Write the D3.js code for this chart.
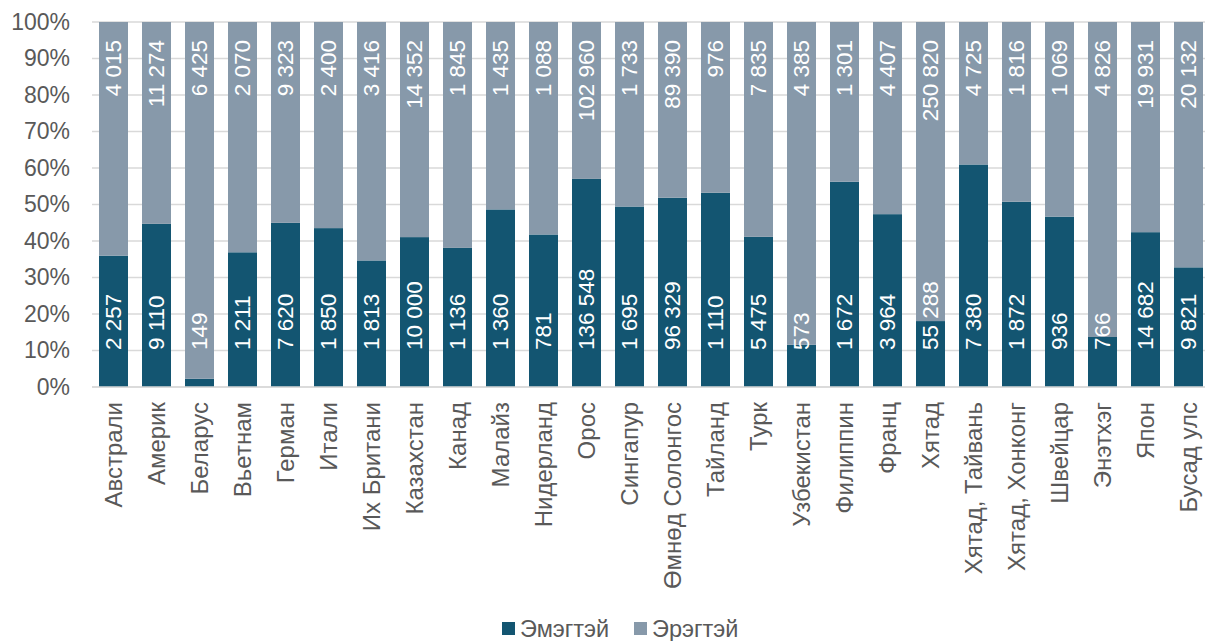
<!DOCTYPE html>
<html><head><meta charset="utf-8">
<script src="https://cdn.jsdelivr.net/npm/d3@7/dist/d3.min.js"></script>
<style>body{margin:0;background:#fff}svg{display:block}text{font-family:Arial,"Liberation Sans",sans-serif}</style>
</head><body><svg id="c" width="1205" height="641"></svg>
<script>
const categories = ["Австрали","Америк","Беларус","Вьетнам","Герман","Итали","Их Британи","Казахстан","Канад","Малайз","Нидерланд","Орос","Сингапур","Өмнөд Солонгос","Тайланд","Турк","Узбекистан","Филиппин","Франц","Хятад","Хятад, Тайвань","Хятад, Хонконг","Швейцар","Энэтхэг","Япон","Бусад улс"];
const female = [2257,9110,149,1211,7620,1850,1813,10000,1136,1360,781,136548,1695,96329,1110,5475,573,1672,3964,55288,7380,1872,936,766,14682,9821];
const male = [4015,11274,6425,2070,9323,2400,3416,14352,1845,1435,1088,102960,1733,89390,976,7835,4385,1301,4407,250820,4725,1816,1069,4826,19931,20132];
const seriesNames = ["Эмэгтэй","Эрэгтэй"];
const yTicks = [0,0.1,0.2,0.3,0.4,0.5,0.6,0.7,0.8,0.9,1];

(function(){
const colors = ["#135571","#8799AA"];
const svg = d3.select("#c");
const left = 92, topY = 22, bottom = 387;
const step = 43;
const x = d3.scaleBand().domain(categories).range([left, left + step*categories.length]).paddingInner(14/43).paddingOuter(0.5*14/43);
const y = d3.scaleLinear().domain([0,1]).range([bottom, topY]);
const fmt = v => d3.format(",")(v).replace(/,/g, " ");

svg.append("g").selectAll("line").data(yTicks).join("line")
  .attr("x1", left).attr("x2", 1205).attr("y1", d=>y(d)).attr("y2", d=>y(d))
  .attr("stroke", "#d9d9d9").attr("stroke-width", 1.3);

const yAxis = d3.axisLeft(y).tickValues(yTicks).tickFormat(d3.format(".0%")).tickSize(0).tickPadding(0);
const ya = svg.append("g").attr("transform", `translate(70,0)`).call(yAxis);
ya.select(".domain").remove();
ya.selectAll("text").attr("font-size", 23).attr("fill", "#595959").attr("font-family","Arial, 'Liberation Sans', sans-serif");

const data = categories.map((c,i)=>{const t=female[i]+male[i];return {c, f:female[i], m:male[i], pf:female[i]/t};});

const g = svg.append("g");
g.selectAll("rect.f").data(data).join("rect").attr("class","f")
  .attr("x", d=>x(d.c)).attr("width", x.bandwidth())
  .attr("y", d=>y(d.pf)).attr("height", d=>y(0)-y(d.pf)).attr("fill", colors[0]);
g.selectAll("rect.m").data(data).join("rect").attr("class","m")
  .attr("x", d=>x(d.c)).attr("width", x.bandwidth())
  .attr("y", y(1)).attr("height", d=>y(d.pf)-y(1)).attr("fill", colors[1]);

svg.append("line").attr("x1", left).attr("x2", 1205).attr("y1", y(0)).attr("y2", y(0)).attr("stroke","#d9d9d9").attr("stroke-width",1.3);

const cx = d => x(d.c) + x.bandwidth()/2;
g.selectAll("text.fl").data(data).join("text").attr("class","fl")
  .attr("transform", d=>`translate(${cx(d)},${y(0)-37}) rotate(-90)`)
  .attr("text-anchor","start").attr("dominant-baseline","central")
  .attr("font-size", 22.5).attr("fill","#fff").text(d=>fmt(d.f));
g.selectAll("text.ml").data(data).join("text").attr("class","ml")
  .attr("transform", d=>`translate(${cx(d)},${y(1)+18}) rotate(-90)`)
  .attr("text-anchor","end").attr("dominant-baseline","central")
  .attr("font-size", 22.5).attr("fill","#fff").text(d=>fmt(d.m));

const xAxis = d3.axisBottom(x).tickSize(0).tickPadding(0);
const xa = svg.append("g").attr("transform", `translate(0,${bottom})`).call(xAxis);
xa.select(".domain").remove();
xa.selectAll("text")
  .attr("transform","translate(0,15) rotate(-90)")
  .attr("text-anchor","end").attr("dy","0.35em").attr("y",0).attr("x",0)
  .attr("font-size", 24).attr("fill","#595959").attr("font-family","Arial, 'Liberation Sans', sans-serif");

const leg = svg.append("g");
const legItems = [{n:seriesNames[0], c:colors[0], x:502},{n:seriesNames[1], c:colors[1], x:634}];
legItems.forEach(it=>{
  leg.append("rect").attr("x", it.x).attr("y", 622).attr("width", 13).attr("height", 13).attr("fill", it.c);
  leg.append("text").attr("x", it.x+18).attr("y", 629).attr("dominant-baseline","central")
    .attr("font-size", 23.5).attr("fill","#595959").text(it.n);
});
})();
</script></body></html>
